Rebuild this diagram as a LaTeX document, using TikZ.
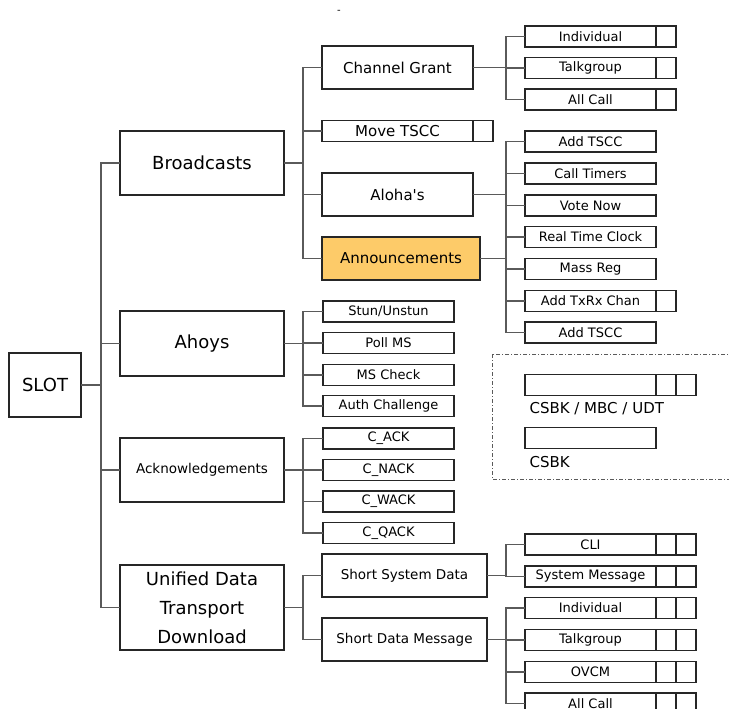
\documentclass[tikz,border=0pt]{standalone}
\usepackage{fontspec}
\setmainfont{DejaVu Sans}
\usetikzlibrary{positioning}
\definecolor{naranja}{HTML}{FDCB69}
\definecolor{gris}{HTML}{5A5A5A}
\tikzset{
  caja/.style={draw=black!85,line width=1.2pt,inner sep=0pt,outer sep=0pt},
  nivel/.style={caja,minimum width=164,minimum height=64,font=\fontsize{18}{29}\selectfont},
  rama/.style={caja,minimum width=151,minimum height=43,font=\fontsize{15}{18}\selectfont},
  hoja/.style={caja,minimum width=131,minimum height=21,font=\fontsize{13}{15}\selectfont},
  celda/.style={caja,minimum width=20,minimum height=21},
  enlace/.style={draw=gris,line width=1.1pt},
}
\newcommand{\Celdas}[2]{%
  \ifnum#2>0 \node[celda,right=0pt of #1] (#1-1) {};\fi
  \ifnum#2>1 \node[celda,right=0pt of #1-1] (#1-2) {};\fi
}

\begin{document}
\begin{tikzpicture}[x=1pt,y=-1pt]
    \useasboundingbox (0,0) rectangle (729,709);
    \node[font=\fontsize{10}{10}\selectfont] (raya) at (339,12) {-};

    \node[nivel,minimum width=72] (slot) at (45,385) {SLOT};
    \node[nivel] (bc) at (202,163) {Broadcasts};
    \node[nivel,minimum height=65] (ah) at (202,343.5) {Ahoys};
    \node[nivel,font=\fontsize{13.5}{16}\selectfont] (ack) at (202,470) {Acknowledgements};
    \node[nivel,minimum height=85,align=center] (udt) at (202,607.5)
      {Unified Data\\Transport\\Download};
    \foreach \n in {bc,ah,ack,udt}
      \draw[enlace] (slot.east) -- ++(20,0) |- (\n.west);

    \begin{scope}
      \node[rama] (cg) at (397.5,67.5) {Channel Grant};
      \node[rama,minimum height=21] (mt) at (397.5,131) {Move TSCC};
      \Celdas{mt}{1}
      \node[rama] (alo) at (397.5,194.5) {Aloha\textquotesingle s};
      \node[rama,minimum width=158,fill=naranja] (ann) at (401,258.5) {Announcements};
      \foreach \n in {cg,mt,alo,ann}
        \draw[enlace] (bc.east) -- ++(19,0) |- (\n.west);

      \foreach \n/\y/\t in {cgi/36.5/Individual,cgt/68/Talkgroup,cga/99.5/All Call} {
        \node[hoja] (\n) at (590.5,\y) {\t};
        \Celdas{\n}{1}
        \draw[enlace] (cg.east) -- ++(33,0) |- (\n.west);
      }

      \coordinate[right=26pt of ann.east] (busann);
      \foreach \n/\y/\t/\k in {an1/141.5/Add TSCC/0,an2/173.5/Call Timers/0,
          an3/205.5/Vote Now/0,an4/237/Real Time Clock/0,an5/269/Mass Reg/0,
          an6/301/Add TxRx Chan/1,an7/332.5/Add TSCC/0} {
        \node[hoja] (\n) at (590.5,\y) {\t};
        \Celdas{\n}{\k}
        \draw[enlace] (ann.east) -- (busann) |- (\n.west);
      }
      \draw[enlace] (alo.east) -- (alo.east -| busann);
    \end{scope}

    \begin{scope}
      \foreach \n/\y/\t in {ah1/311.5/{Stun/Unstun},ah2/343/Poll MS,
          ah3/375/MS Check,ah4/406/Auth Challenge} {
        \node[hoja] (\n) at (388.5,\y) {\t};
        \draw[enlace] (ah.east) -- ++(19,0) |- (\n.west);
      }
      \foreach \n/\y/\t in {ac1/438.5/C\_ACK,ac2/470/C\_NACK,
          ac3/501.5/C\_WACK,ac4/533/C\_QACK} {
        \node[hoja] (\n) at (388.5,\y) {\t};
        \draw[enlace] (ack.east) -- ++(19,0) |- (\n.west);
      }
    \end{scope}

    \begin{scope}
      \node[rama,minimum width=165,font=\fontsize{13.5}{16}\selectfont] (ssd) at (404.5,575.5)
        {Short System Data};
      \node[rama,minimum width=165,font=\fontsize{13.5}{16}\selectfont] (sdm) at (404.5,639.5)
        {Short Data Message};
      \foreach \n in {ssd,sdm}
        \draw[enlace] (udt.east) -- ++(19,0) |- (\n.west);
      \foreach \n/\y/\t in {sd1/544.5/CLI,sd2/576.5/System Message} {
        \node[hoja] (\n) at (590.5,\y) {\t};
        \Celdas{\n}{2}
        \draw[enlace] (ssd.east) -- ++(19,0) |- (\n.west);
      }
      \foreach \n/\y/\t in {dm1/608/Individual,dm2/640/Talkgroup,
          dm3/672/OVCM,dm4/703.5/All Call} {
        \node[hoja] (\n) at (590.5,\y) {\t};
        \Celdas{\n}{2}
        \draw[enlace] (sdm.east) -- ++(19,0) |- (\n.west);
      }
    \end{scope}

    \begin{scope}[font=\fontsize{15}{17}\selectfont]
      \draw[gris,line width=0.9pt,dash pattern=on 4pt off 2pt on 1pt off 2pt]
        (492,354) rectangle (740,479);
      \node[hoja] (ley1) at (590.5,385) {};
      \Celdas{ley1}{2}
      \node[anchor=west] (tley1) at (526,409) {CSBK / MBC / UDT};
      \node[hoja] (ley2) at (590.5,438) {};
      \node[anchor=west] (tley2) at (526,462) {CSBK};
    \end{scope}
\end{tikzpicture}
\end{document}
